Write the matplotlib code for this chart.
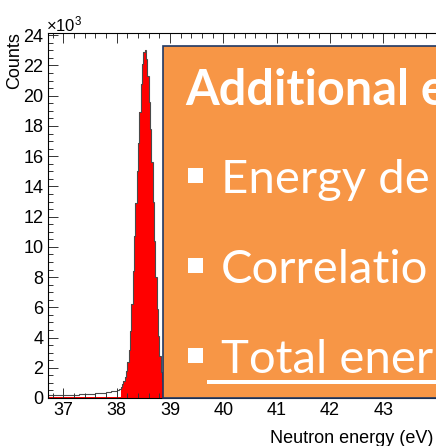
import numpy as np
import matplotlib
matplotlib.use("Agg")
import matplotlib.pyplot as plt
from matplotlib.patches import Rectangle
from matplotlib.ticker import MultipleLocator

plt.rcParams['font.family'] = ['Liberation Sans', 'DejaVu Sans']
plt.rcParams['mathtext.default'] = 'regular'

# histogram data (counts in units of 10^3)
tail_edges = np.round(np.arange(36.7, 38.0001, 0.1), 3)
tail_counts = [0.18, 0.19, 0.2, 0.21, 0.22, 0.23, 0.25, 0.27, 0.29, 0.32, 0.36, 0.41, 0.47]

peak_edges = np.round(np.arange(38.0, 39.0001, 0.025), 4)
peak_counts = [0.5, 0.55, 0.62, 0.75, 0.9, 1.1, 1.4, 1.8, 2.4, 3.2,
               4.4, 6.2, 8.4, 10.7, 12.9, 15.0, 16.9, 18.9, 20.8, 22.1,
               22.9, 23.0, 22.4, 21.3, 19.6, 17.8, 15.6, 13.0, 10.4, 8.0,
               5.9, 4.1, 2.8, 1.7, 1.1, 0.7, 0.45, 0.3, 0.2, 0.15]

window_lo = 38.075      # red selection starts here
red_floor = 0.06        # thin red strip below the window

edges = np.concatenate([tail_edges, peak_edges[1:]])
counts = np.array(tail_counts + peak_counts)
red_counts = np.where(edges[:-1] >= window_lo - 1e-9, counts, red_floor)

x_ticks = [37, 38, 39, 40, 41, 42, 43]
y_ticks = list(range(0, 25, 2))

fig = plt.figure(figsize=(4.36, 4.46), dpi=100)
ax = fig.add_axes([47.5 / 436, 48 / 446, 1 - 47.5 / 436, (398 - 33) / 446])

ax.stairs(red_counts, edges, fill=True, color='#ff0000', lw=0)
ax.stairs(counts, edges, color='#4a4a4a', lw=0.8)

ax.set_xlim(36.7, 43.99)
ax.set_ylim(0, 24.15)
ax.set_xticks(x_ticks)
ax.set_yticks(y_ticks)
ax.xaxis.set_minor_locator(MultipleLocator(0.2))
ax.yaxis.set_minor_locator(MultipleLocator(0.5))
ax.tick_params(which='both', direction='in', top=True, right=False,
               width=0.7, colors='#333333', labelcolor='black', labelsize=13)
ax.tick_params(which='major', length=7)
ax.tick_params(which='minor', length=3.5)
ax.tick_params(axis='x', pad=3)
ax.tick_params(axis='y', pad=3)
ax.spines['right'].set_visible(False)
for s in ['left', 'top', 'bottom']:
    ax.spines[s].set_linewidth(0.8)

fig.text(15 / 436, 1 - 32 / 446, 'Counts', rotation=90, ha='center', va='top', fontsize=13)
fig.text(46 / 436, 1 - 31 / 446, r'$\times10^{3}$', ha='left', va='baseline', fontsize=12)
fig.text(433 / 436, 1 - 442.7 / 446, 'Neutron energy (eV)', ha='right', va='baseline', fontsize=13)

# orange slide box laid over the plot
box = Rectangle((163 / 436, 1 - 398 / 446), 1.0, (398 - 46) / 446,
                transform=fig.transFigure, facecolor='#f79646',
                edgecolor='#203864', lw=1.2, zorder=5)
fig.add_artist(box)

fig.text(185 / 436, 1 - 105 / 446, 'Additional e', color='white', fontsize=35,
         fontweight='bold', family='Lato', va='baseline', ha='left', zorder=6)

bullets = ['Energy de', 'Correlatio', 'Total ener']
baselines = [193.3, 283, 373]
for label, base in zip(bullets, baselines):
    fig.text(221 / 436, 1 - base / 446, label, color='white', fontsize=34,
             family='Lato', va='baseline', ha='left', zorder=6)
    sq = Rectangle((188 / 436, 1 - (base - 10) / 446), 15 / 436, 15 / 446,
                   transform=fig.transFigure, facecolor='white', lw=0, zorder=6)
    fig.add_artist(sq)

# underline of the last bullet
ul = Rectangle((207 / 436, 1 - 383.5 / 446), 1.0, 3.5 / 446,
               transform=fig.transFigure, facecolor='white', lw=0, zorder=6)
fig.add_artist(ul)

fig.savefig('out.png', dpi=100)
